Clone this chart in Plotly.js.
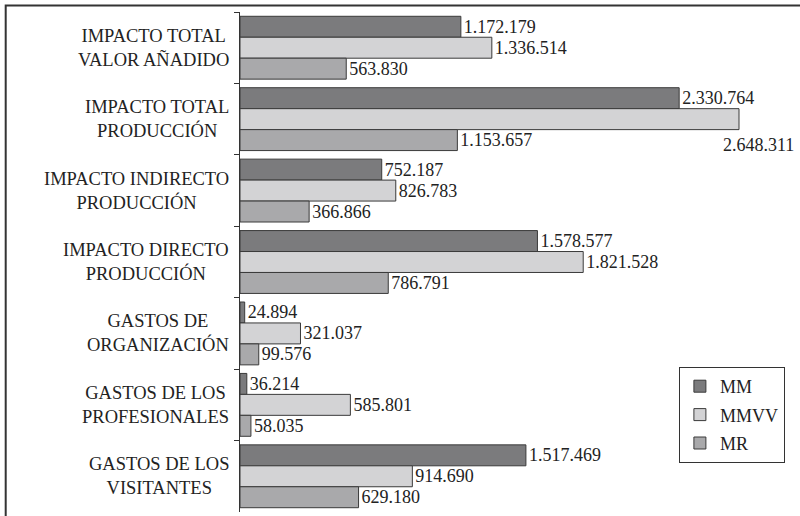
<!DOCTYPE html>
<html>
<head>
<meta charset="utf-8">
<script src="https://cdn.plot.ly/plotly-3.0.1.min.js"></script>
<style>html,body{margin:0;padding:0;background:#fff}#chart{width:800px;height:516px}</style>
</head>
<body>
<div id="chart"></div>
<script>
const categories = [
  "IMPACTO TOTAL<br>VALOR AÑADIDO",
  "IMPACTO TOTAL<br>PRODUCCIÓN",
  "IMPACTO INDIRECTO<br>PRODUCCIÓN",
  "IMPACTO DIRECTO<br>PRODUCCIÓN",
  "GASTOS DE<br>ORGANIZACIÓN",
  "GASTOS DE LOS<br>PROFESIONALES",
  "GASTOS DE LOS<br>VISITANTES"
];
const seriesNames = ["MM", "MMVV", "MR"];
const mm   = [1172179, 2330764, 752187, 1578577, 24894, 36214, 1517469];
const mmvv = [1336514, 2648311, 826783, 1821528, 321037, 585801, 914690];
const mr   = [563830, 1153657, 366866, 786791, 99576, 58035, 629180];
const colors = ["#7b7b7d", "#d3d3d5", "#a9a9ab"];

function fmt(v){ return String(v).replace(/\B(?=(\d{3})+(?!\d))/g, "."); }

const font = "Liberation Serif";
const series = [mm, mmvv, mr];
// label of MMVV in second category is placed below its bar end
const specialSeries = 1, specialIdx = 1;

const traces = series.map((vals, s) => ({
  type: "bar",
  orientation: "h",
  name: seriesNames[s],
  legendgroup: seriesNames[s],
  x: vals,
  y: categories,
  text: vals.map(fmt),
  textposition: vals.map((v, i) => (s === specialSeries && i === specialIdx) ? "none" : "outside"),
  textfont: {family: font, size: 18, color: "#222"},
  constraintext: "none",
  cliponaxis: false,
  hoverinfo: "none",
  marker: {color: colors[s], line: {color: "#3a3a3a", width: 1}}
}));

const annotations = categories.map(c => ({
  xref: "paper", yref: "y", x: -0.016, y: c,
  xanchor: "right", yanchor: "middle", align: "center",
  text: c, showarrow: false,
  font: {family: font, size: 18.5, color: "#222"}
}));
annotations.push({
  xref: "x", yref: "y", x: series[specialSeries][specialIdx], y: categories[specialIdx],
  xanchor: "center", yanchor: "middle", xshift: 19, yshift: -26,
  text: fmt(series[specialSeries][specialIdx]), showarrow: false,
  font: {family: font, size: 18, color: "#222"}
});

const layout = {
  width: 800, height: 516,
  margin: {l: 240, r: 10, t: 12, b: 4},
  paper_bgcolor: "#fff", plot_bgcolor: "#fff",
  barmode: "group", bargap: 0.12, bargroupgap: 0,
  showlegend: true,
  legend: {
    x: 0.798, y: 0.29, xanchor: "left", yanchor: "top",
    bgcolor: "#fff", bordercolor: "#333", borderwidth: 1,
    font: {family: font, size: 18, color: "#222"},
    traceorder: "grouped", tracegroupgap: 2, itemwidth: 30
  },
  xaxis: {range: [0, 2919000], visible: false, fixedrange: true},
  yaxis: {
    autorange: "reversed", showticklabels: false,
    showline: true, linecolor: "#333", linewidth: 1,
    ticks: "outside", ticklen: 5, tickcolor: "#333", tickson: "boundaries",
    showgrid: false, zeroline: false
  },
  annotations: annotations,
  shapes: [{
    type: "rect", xref: "paper", yref: "paper",
    x0: -0.426, x1: 1.2, y0: -0.2, y1: 1.013,
    line: {color: "#333", width: 2}, fillcolor: "rgba(0,0,0,0)", layer: "below"
  }]
};

Plotly.newPlot("chart", traces, layout, {staticPlot: true, displayModeBar: false});
</script>
</body>
</html>
